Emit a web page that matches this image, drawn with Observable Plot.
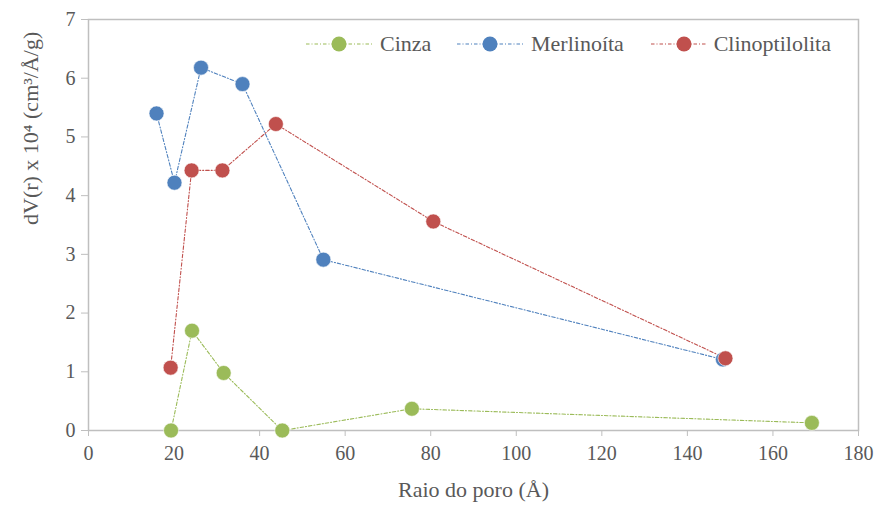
<!DOCTYPE html>
<html>
<head>
<meta charset="utf-8">
<script src="https://cdn.jsdelivr.net/npm/d3@7"></script>
<script src="https://cdn.jsdelivr.net/npm/@observablehq/plot@0.6"></script>
<style>
  html, body { margin: 0; padding: 0; background: #fff; }
  #wrap { position: relative; width: 878px; height: 506px; font-family: "Liberation Serif", "Times New Roman", Times, "Noto Serif", "DejaVu Serif", serif; }
  #wrap svg text { font-family: "Liberation Serif", "Times New Roman", Times, "Noto Serif", "DejaVu Serif", serif; }
  #legend { position: absolute; top: 31px; left: 306px; display: flex; align-items: center; font-size: 22px; color: #595959; white-space: nowrap; }
  #legend .item { display: flex; align-items: center; }
  #legend svg { margin-right: 8px; }
</style>
</head>
<body>
<div id="wrap"><div id="legend"></div></div>
<script>
const seriesNames = ["Cinza", "Merlinoíta", "Clinoptilolita"];
const seriesColors = ["#9bbb59", "#4f81bd", "#c0504d"];

const cinzaX = [19.3, 24.2, 31.6, 45.3, 75.6, 169.1];
const cinzaY = [0.0, 1.70, 0.98, 0.0, 0.37, 0.13];

const merlinoitaX = [15.9, 20.1, 26.3, 36.0, 54.9, 148.3];
const merlinoitaY = [5.40, 4.22, 6.18, 5.90, 2.91, 1.21];

const clinoX = [19.2, 24.1, 31.3, 43.8, 80.6, 148.9];
const clinoY = [1.07, 4.43, 4.43, 5.22, 3.56, 1.23];

const xTicks = [0, 20, 40, 60, 80, 100, 120, 140, 160, 180];
const yTicks = [0, 1, 2, 3, 4, 5, 6, 7];

const xTitle = "Raio do poro (Å)";
const yTitle = "dV(r) x 10⁴ (cm³/Å/g)";

const data = [];
[[cinzaX, cinzaY], [merlinoitaX, merlinoitaY], [clinoX, clinoY]].forEach(([xs, ys], i) => {
  xs.forEach((x, j) => data.push({ series: seriesNames[i], x, y: ys[j] }));
});

const dash = "3.5,2,1,2";
const axisColor = "#bfbfbf";
const textColor = "#595959";

const chart = Plot.plot({
  width: 878,
  height: 506,
  marginLeft: 88,
  marginRight: 20,
  marginTop: 19,
  marginBottom: 76,
  style: { fontSize: "20px", color: textColor, background: "transparent" },
  x: { domain: [0, 180], ticks: xTicks },
  y: { domain: [0, 7], ticks: yTicks },
  color: { domain: seriesNames, range: seriesColors },
  marks: [
    Plot.frame({ stroke: axisColor, strokeWidth: 1.5 }),
    Plot.axisX({ ticks: xTicks, tickSize: 6, tickPadding: 9, stroke: axisColor, fill: textColor, fontSize: 20, label: null, tickFormat: d => String(d) }),
    Plot.axisY({ ticks: yTicks, tickSize: 7, tickPadding: 6, stroke: axisColor, fill: textColor, fontSize: 20, label: null, tickFormat: d => String(d) }),
    Plot.text([xTitle], { frameAnchor: "bottom", dy: 66, fontSize: 22, fill: textColor }),
    Plot.text([yTitle], { frameAnchor: "left", dx: -58, rotate: -90, fontSize: 22, fill: textColor }),
    Plot.line(data, { x: "x", y: "y", z: "series", stroke: "series", strokeWidth: 1.1, strokeDasharray: dash }),
    Plot.dot(data, { x: "x", y: "y", fill: "series", r: 7.5, stroke: "white", strokeWidth: 0.6 })
  ]
});

document.getElementById("wrap").prepend(chart);

const legendWidths = [151, 194, 180];
const legend = document.getElementById("legend");
seriesNames.forEach((name, i) => {
  const item = document.createElement("div");
  item.className = "item";
  item.style.width = legendWidths[i] + "px";
  item.innerHTML = `<svg width="66" height="20"><line x1="0" y1="10" x2="66" y2="10" stroke="${seriesColors[i]}" stroke-width="1.1" stroke-dasharray="${dash}"/><circle cx="33" cy="10" r="7.5" fill="${seriesColors[i]}"/></svg><span>${name}</span>`;
  legend.appendChild(item);
});
</script>
</body>
</html>
